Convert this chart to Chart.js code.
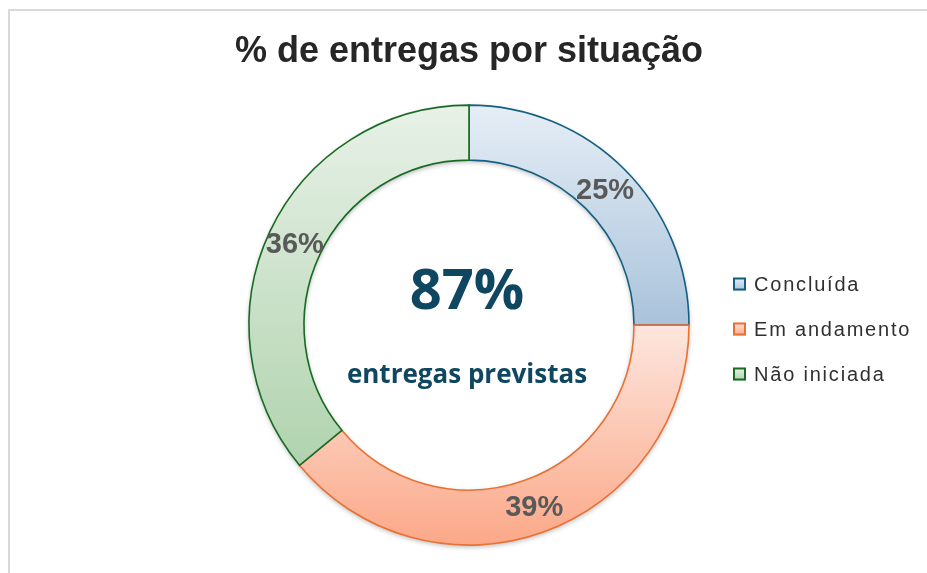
<!DOCTYPE html>
<html><head><meta charset="utf-8">
<script src="https://cdn.jsdelivr.net/npm/chart.js@4.4.1/dist/chart.umd.min.js"></script>
<style>html,body{margin:0;padding:0;background:#fff;overflow:hidden}</style>
</head><body>
<canvas id="c" width="927" height="573"></canvas>
<script>
// ---- data ----
const chartTitle = '% de entregas por situação';
const categories = ['Concluída', 'Em andamento', 'Não iniciada'];
const shares = [25, 39, 36];
const centerValue = '87%';
const centerCaption = 'entregas previstas';

// ---- styles ----
const borderColors = ['#156082', '#E97132', '#196B24'];
const gradTop = ['#E6EEF6', '#FDE6DE', '#E8F1E7'];
const gradBottom = ['#A9C3DB', '#FBA888', '#B0D3AE'];
const OUTER_R = 220, CUTOUT = 0.75;

function sliceGradient(ctx) {
  const chart = ctx.chart, a = chart.chartArea, i = ctx.dataIndex;
  if (!a) return gradTop[i];
  const cx = (a.left + a.right) / 2, cy = (a.top + a.bottom) / 2;
  const total = shares.reduce((s, v) => s + v, 0);
  let start = -Math.PI / 2;
  for (let k = 0; k < i; k++) start += shares[k] / total * 2 * Math.PI;
  const end = start + shares[i] / total * 2 * Math.PI;
  let yMin = Infinity, yMax = -Infinity;
  for (let t = 0; t <= 90; t++) {
    const ang = start + (end - start) * t / 90;
    for (const r of [OUTER_R, OUTER_R * CUTOUT]) {
      const y = cy + r * Math.sin(ang);
      yMin = Math.min(yMin, y); yMax = Math.max(yMax, y);
    }
  }
  const g = chart.ctx.createLinearGradient(0, yMin, 0, yMax);
  g.addColorStop(0, gradTop[i]);
  g.addColorStop(1, gradBottom[i]);
  return g;
}

const framePlugin = {
  id: 'frame',
  beforeDraw(chart) {
    const c = chart.ctx;
    c.save();
    c.fillStyle = '#fff';
    c.fillRect(0, 0, chart.width, chart.height);
    c.strokeStyle = '#D9D9D9';
    c.lineWidth = 2;
    c.beginPath();
    c.moveTo(9, chart.height + 2);
    c.lineTo(9, 10);
    c.lineTo(chart.width + 2, 10);
    c.stroke();
    c.restore();
  }
};

const shadowPlugin = {
  id: 'ringShadow',
  beforeDatasetsDraw(chart) {
    const el = chart.getDatasetMeta(0).data[0];
    if (!el) return;
    const c = chart.ctx;
    c.save();
    c.shadowColor = 'rgba(0,0,0,0.28)';
    c.shadowBlur = 5;
    c.shadowOffsetY = 2;
    c.fillStyle = '#fff';
    c.beginPath();
    c.arc(el.x, el.y, el.outerRadius, 0, Math.PI * 2);
    c.arc(el.x, el.y, el.innerRadius, 0, Math.PI * 2, true);
    c.fill();
    c.restore();
  }
};

const labelPlugin = {
  id: 'sliceLabels',
  afterDatasetsDraw(chart) {
    const c = chart.ctx;
    const meta = chart.getDatasetMeta(0);
    c.save();
    c.font = 'bold 29px "Liberation Sans", Arial, sans-serif';
    c.fillStyle = '#595959';
    c.textAlign = 'center';
    c.textBaseline = 'middle';
    meta.data.forEach((arc, i) => {
      const p = arc.getCenterPoint();
      c.fillText(shares[i] + '%', p.x, p.y + 2);
    });
    c.restore();
  }
};

const centerPlugin = {
  id: 'centerText',
  afterDraw(chart) {
    const el = chart.getDatasetMeta(0).data[0];
    if (!el) return;
    const c = chart.ctx;
    c.save();
    c.fillStyle = '#0F4761';
    c.textAlign = 'center';
    c.textBaseline = 'middle';
    c.font = 'bold 56px "Open Sans", sans-serif';
    c.fillText(centerValue, el.x - 2, el.y - 32);
    c.font = 'bold 26px "Open Sans", sans-serif';
    c.fillText(centerCaption, el.x - 2, el.y + 50);
    c.restore();
  }
};

const legendPlugin = {
  id: 'sideLegend',
  afterDraw(chart) {
    const c = chart.ctx;
    const x0 = 733, y0 = 284, step = 45, box = 13;
    c.save();
    categories.forEach((name, i) => {
      const cy = y0 + i * step;
      const g = c.createLinearGradient(0, cy - box / 2, 0, cy + box / 2);
      g.addColorStop(0, gradTop[i]);
      g.addColorStop(1, gradBottom[i]);
      c.fillStyle = g;
      c.fillRect(x0, cy - box / 2, box, box);
      c.strokeStyle = borderColors[i];
      c.lineWidth = 2;
      c.strokeRect(x0 + 1, cy - box / 2 + 1, box - 2, box - 2);
      c.fillStyle = '#303030';
      c.font = '20px "Liberation Sans", Arial, sans-serif';
      c.letterSpacing = '1.8px';
      c.textAlign = 'left';
      c.textBaseline = 'middle';
      c.fillText(name, x0 + 21, cy + 1);
    });
    c.restore();
  }
};

new Chart(document.getElementById('c'), {
  type: 'doughnut',
  data: {
    labels: categories,
    datasets: [{
      data: shares,
      backgroundColor: sliceGradient,
      borderColor: borderColors,
      borderWidth: 1.6,
      borderJoinStyle: 'miter'
    }]
  },
  options: {
    responsive: false,
    animation: false,
    events: [],
    radius: OUTER_R,
    cutout: (CUTOUT * 100) + '%',
    layout: { padding: { left: 11, right: 0, top: 0, bottom: 0 } },
    plugins: {
      legend: { display: false },
      tooltip: { enabled: false },
      title: {
        display: true,
        text: chartTitle,
        color: '#262626',
        font: { family: '"Liberation Sans", Arial, sans-serif', size: 36, weight: 'bold' },
        padding: { top: 30, bottom: 4 }
      }
    }
  },
  plugins: [framePlugin, shadowPlugin, labelPlugin, centerPlugin, legendPlugin]
});
</script>
</body></html>
